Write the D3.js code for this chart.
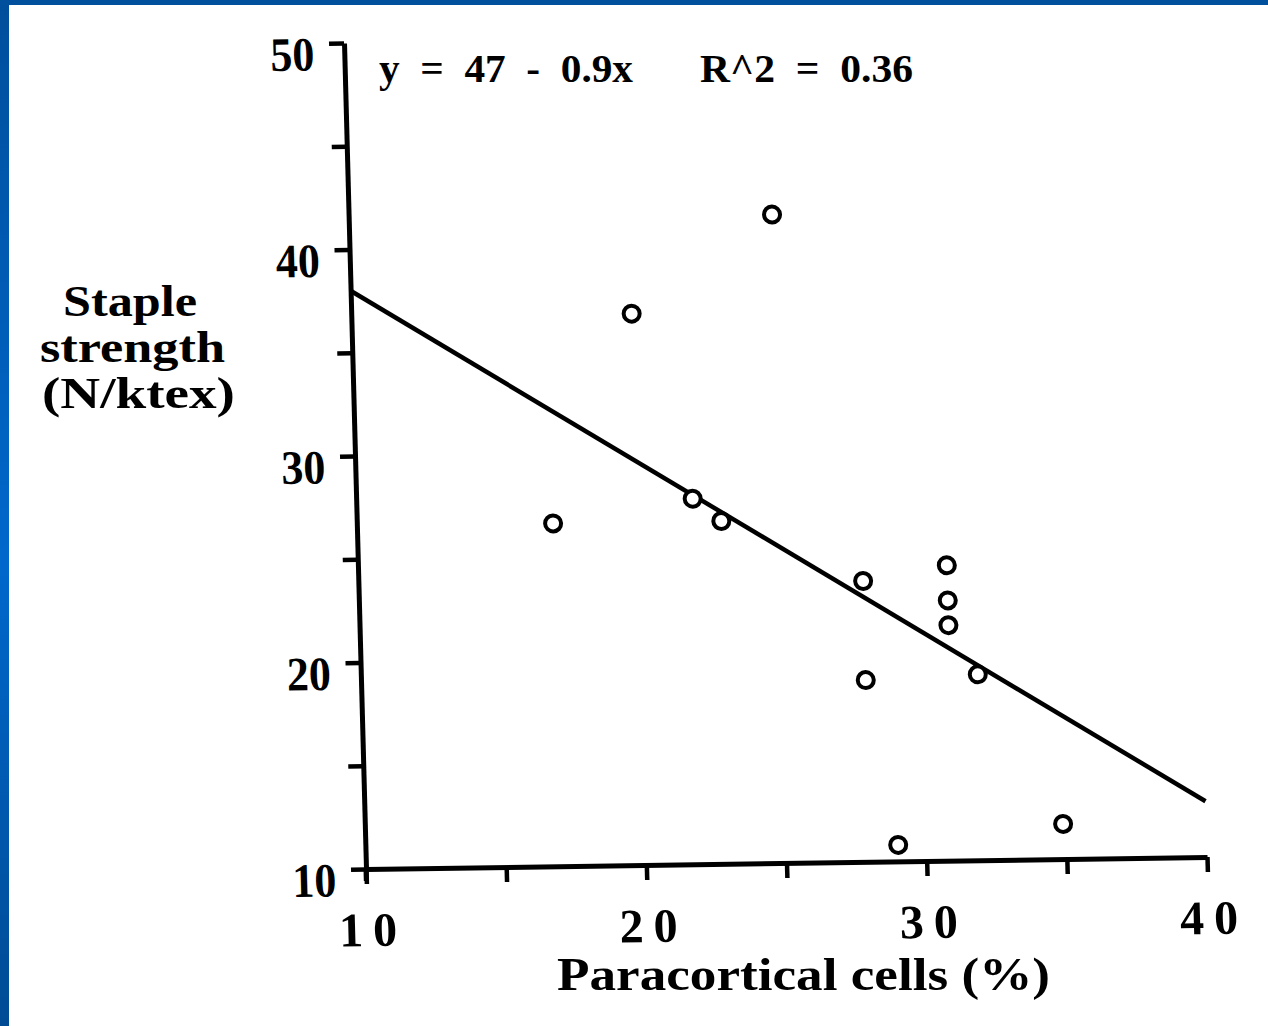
<!DOCTYPE html>
<html>
<head>
<meta charset="utf-8">
<script src="https://cdn.jsdelivr.net/npm/d3@7"></script>
<style>
  body { margin: 0; background: #fff; }
  svg { display: block; }
</style>
</head>
<body>
<svg></svg>
<script>
//points
let paracortical = [17.0, 20.0, 22.0, 23.0, 25.1, 28.0, 28.0, 29.0, 31.0, 31.0, 31.0, 32.0, 34.9];
let strength     = [26.6, 36.7, 27.7, 26.6, 41.4, 23.6, 18.8, 10.8, 24.3, 22.6, 21.4, 19.0, 11.7];

//ends of the fitted line as drawn
let fitX = [10, 40];
let fitY = [38.0, 12.7];

//ticks
let xTicks = [10, 15, 20, 25, 30, 35, 40];
let yTicks = [10, 15, 20, 25, 30, 35, 40, 45, 50];

let equation = 'y  =  47  -  0.9x';
let rSquared = 'R^2  =  0.36';
let xTitle = 'Paracortical cells (%)';
let yTitle = ['Staple', 'strength', '(N/ktex)'];

let width = 1268;
let height = 1026;
let serif = '"Liberation Serif", "DejaVu Serif", serif';

let svg = d3.select('svg')
    .attr('width', width)
    .attr('height', height);

//slide frame
let grad = svg.append('defs').append('linearGradient')
    .attr('id', 'edge')
    .attr('x1', 0).attr('y1', 0).attr('x2', 0).attr('y2', 1);
grad.append('stop').attr('offset', '0%').attr('stop-color', '#004f9c');
grad.append('stop').attr('offset', '55%').attr('stop-color', '#0068cc');
grad.append('stop').attr('offset', '100%').attr('stop-color', '#004b94');

svg.append('rect').attr('width', width).attr('height', height).attr('fill', '#fff');
svg.append('rect').attr('x', 0).attr('y', 0).attr('width', 9).attr('height', height).attr('fill', 'url(#edge)');
svg.append('rect').attr('x', 0).attr('y', 0).attr('width', width).attr('height', 5).attr('fill', '#00509e');

//scales in the plot's own frame, origin at (10, 10)
let xScale = d3.scaleLinear().domain([10, 40]).range([0, 841]);
let yScale = d3.scaleLinear().domain([10, 50]).range([0, -826]);

//the scanned axes are a little skewed, so the frame is sheared to follow them
let plot = svg.append('g')
    .attr('transform', 'matrix(1,-0.01427,0.02663,1,366,869)');

let xAxis = d3.axisBottom(xScale)
    .tickValues(xTicks)
    .tickSize(15)
    .tickSizeOuter(0)
    .tickPadding(28)
    .tickFormat(d => d % 10 === 0 ? d : '');

let yAxis = d3.axisLeft(yScale)
    .tickValues(yTicks)
    .tickSize(15)
    .tickSizeOuter(0)
    .tickPadding(15)
    .tickFormat(d => d % 10 === 0 ? d : '');

let gx = plot.append('g').call(xAxis);
let gy = plot.append('g').call(yAxis);

//y axis runs a little below the x axis
plot.append('line')
    .attr('x1', 0).attr('x2', 0)
    .attr('y1', 0).attr('y2', 12)
    .attr('stroke', '#000').attr('stroke-width', 5);

[gx, gy].forEach(g => {
    g.select('.domain').attr('stroke', '#000').attr('stroke-width', 5);
    g.selectAll('.tick line').attr('stroke', '#000').attr('stroke-width', 4.5);
    g.selectAll('.tick text')
        .attr('fill', '#000')
        .style('font-family', serif)
        .style('font-weight', 'bold')
        .style('font-size', '48px');
});

gx.selectAll('.tick text')
    .filter(d => d % 10 === 0)
    .attr('dy', '0.71em')
    .attr('textLength', 58)
    .attr('lengthAdjust', 'spacing');

gy.selectAll('.tick text')
    .filter(d => d % 10 === 0)
    .attr('dy', '0.55em')
    .attr('textLength', 44)
    .attr('lengthAdjust', 'spacingAndGlyphs');

//fitted line
plot.append('line')
    .attr('x1', xScale(fitX[0])).attr('y1', yScale(fitY[0]))
    .attr('x2', xScale(fitX[1])).attr('y2', yScale(fitY[1]))
    .attr('stroke', '#000')
    .attr('stroke-width', 4.5);

//points
plot.selectAll('circle')
    .data(paracortical.map((x, i) => [x, strength[i]]))
    .enter()
    .append('circle')
    .attr('cx', d => xScale(d[0]))
    .attr('cy', d => yScale(d[1]))
    .attr('r', 8)
    .attr('fill', '#fff')
    .attr('stroke', '#000')
    .attr('stroke-width', 4);

//texts
let label = (txt, x, y, len) => svg.append('text')
    .attr('x', x).attr('y', y)
    .attr('textLength', len)
    .attr('lengthAdjust', 'spacingAndGlyphs')
    .style('font-family', serif)
    .style('font-weight', 'bold')
    .style('font-size', '44px')
    .style('white-space', 'pre')
    .attr('fill', '#000')
    .text(txt);

label(equation, 379, 82, 254).style('font-size', '40px');
label(rSquared, 700, 82, 213).style('font-size', '40px');
label(xTitle, 557, 990, 493).style('font-size', '46px');

label(yTitle[0], 63, 316, 134);
label(yTitle[1], 40, 362, 185);
label(yTitle[2], 42, 408, 193);
</script>
</body>
</html>
